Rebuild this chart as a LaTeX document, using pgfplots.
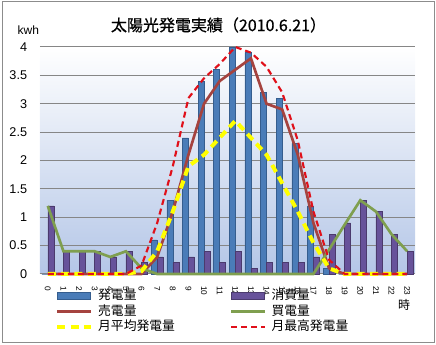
\documentclass[border=0pt]{standalone}
\usepackage{pgfplots}
\pgfplotsset{compat=1.18}
\usepackage{fontspec}
\setmainfont{Liberation Sans}
\newfontfamily\cjk{Noto Sans CJK JP}
\newfontfamily\cjktitle[FakeBold=0.8]{Noto Sans CJK JP}

\definecolor{genblue}{HTML}{4A7CB8}
\definecolor{genblueedge}{HTML}{355D8E}
\definecolor{conspurple}{HTML}{67529A}
\definecolor{conspurpleedge}{HTML}{4B3A6D}
\definecolor{soldred}{HTML}{A5433F}
\definecolor{boughtgreen}{HTML}{7F9F4F}
\definecolor{avgyellow}{HTML}{FFFF00}
\definecolor{maxred}{HTML}{E0101A}
\definecolor{gridgray}{HTML}{868686}
\definecolor{framegray}{HTML}{8C8C8C}
\definecolor{bgblue}{RGB}{180,198,231}

\pgfplotsset{
  lineleg/.style={legend image code/.code={\draw[##1,/tikz/.cd] (0pt,0pt) -- (25pt,0pt); \path (28pt,0pt);}},
}

\begin{document}
\begin{tikzpicture}
\useasboundingbox (0,0) rectangle (327pt,258.75pt);
\draw[color=framegray, line width=0.75pt] (1.5pt,1.5pt) rectangle (325.5pt,257.25pt);
\begin{axis}[
  at={(30pt,53.25pt)}, anchor=south west,
  scale only axis, width=281.25pt, height=170.25pt,
  xmin=-0.5, xmax=23.5, ymin=0, ymax=4,
  xtick={0,1,...,23},
  ytick={0,0.5,1,1.5,2,2.5,3,3.5,4},
  ymajorgrids, grid style={gridgray, line width=0.75pt},
  axis line style={draw=none},
  major tick length=0pt,
  clip=false,
  axis background/.style={top color=white, bottom color=bgblue},
  /pgf/number format/assume math mode=true,
  yticklabel style={font=\fontsize{9.5}{10}\selectfont, anchor=east, inner sep=0pt, xshift=-9.5pt},
  xticklabel style={font=\fontsize{6.2}{7}\selectfont, yshift=-9pt, rotate=-90, anchor=west, inner sep=0pt},
  legend columns=2,
  legend cell align=left,
  legend style={draw=none, fill=none, inner sep=0pt,
    at={(axis description cs:0.04,-0.066)}, anchor=north west,
    font=\cjk\fontsize{9.6}{10}\selectfont,
    row sep=1.6pt,
    /tikz/every even column/.append style={column sep=40pt},
    nodes={inner xsep=1.2pt, inner ysep=0pt, text height=8pt, text depth=2pt}},
]
\addplot[ybar, bar width=4.5pt, bar shift=-2.25pt, fill=genblue, draw=genblueedge, line width=0.4pt, forget plot]
  coordinates {(0,0) (1,0) (2,0) (3,0) (4,0) (5,0) (6,0) (7,0.6) (8,1.3) (9,2.4) (10,3.4) (11,3.6)
  (12,4.0) (13,3.9) (14,3.2) (15,3.1) (16,2.3) (17,1.2) (18,0.1) (19,0) (20,0) (21,0) (22,0) (23,0)};
\addplot[ybar, bar width=4.5pt, bar shift=2.25pt, fill=conspurple, draw=conspurpleedge, line width=0.4pt, forget plot]
  coordinates {(0,1.2) (1,0.4) (2,0.4) (3,0.4) (4,0.3) (5,0.4) (6,0.2) (7,0.3) (8,0.2) (9,0.3) (10,0.4) (11,0.2)
  (12,0.4) (13,0.1) (14,0.2) (15,0.2) (16,0.2) (17,0.3) (18,0.7) (19,0.9) (20,1.3) (21,1.1) (22,0.7) (23,0.4)};
\addlegendimage{legend image code/.code={\draw[fill=genblue, draw=genblueedge, line width=0.4pt] (0pt,-2.6pt) rectangle (25pt,2.6pt); \path (28pt,0pt);}}
\addlegendentry{発電量}
\addlegendimage{legend image code/.code={\draw[fill=conspurple, draw=conspurpleedge, line width=0.4pt] (0pt,-2.6pt) rectangle (25pt,2.6pt); \path (28pt,0pt);}}
\addlegendentry{消費量}
\addplot[soldred, line width=2pt, lineleg]
  coordinates {(0,0) (1,0) (2,0) (3,0) (4,0) (5,0) (6,0) (7,0.3) (8,1.1) (9,2.1) (10,3.0) (11,3.4)
  (12,3.6) (13,3.8) (14,3.0) (15,2.9) (16,2.1) (17,0.9) (18,0.1) (19,0) (20,0) (21,0) (22,0) (23,0)};
\addlegendentry{売電量}
\addplot[boughtgreen, line width=2pt, lineleg]
  coordinates {(0,1.2) (1,0.4) (2,0.4) (3,0.4) (4,0.3) (5,0.4) (6,0.1) (7,0) (8,0) (9,0) (10,0) (11,0)
  (12,0) (13,0) (14,0) (15,0) (16,0) (17,0) (18,0.43) (19,0.87) (20,1.3) (21,1.1) (22,0.7) (23,0.4)};
\addlegendentry{買電量}
\addplot[avgyellow, line width=3pt, dash pattern=on 6pt off 4pt, lineleg]
  coordinates {(0,0) (1,0) (2,0) (3,0) (4,0) (5,0) (6,0.05) (7,0.4) (8,1.1) (9,1.9) (10,2.1) (11,2.4)
  (12,2.7) (13,2.4) (14,2.1) (15,1.6) (16,1.1) (17,0.55) (18,0.1) (19,0) (20,0) (21,0) (22,0) (23,0)};
\addlegendentry{月平均発電量}
\addplot[maxred, line width=1.6pt, dash pattern=on 4.5pt off 3pt, lineleg]
  coordinates {(0,0) (1,0) (2,0) (3,0) (4,0) (5,0) (6,0.15) (7,0.9) (8,1.9) (9,3.1) (10,3.45) (11,3.7)
  (12,4.0) (13,3.9) (14,3.65) (15,3.2) (16,2.35) (17,1.1) (18,0.25) (19,0) (20,0) (21,0) (22,0) (23,0)};
\addlegendentry{月最高発電量}
\node[font=\cjktitle\fontsize{12}{14}\selectfont] at (axis description cs:0.476,1.097) {太陽光発電実績（2010.6.21）};
\node[font=\fontsize{9}{10}\selectfont] at (axis description cs:-0.031,1.073) {kwh};
\node[font=\cjk\fontsize{9}{10}\selectfont] at (axis description cs:0.971,-0.137) {時};
\end{axis}
\end{tikzpicture}
\end{document}
